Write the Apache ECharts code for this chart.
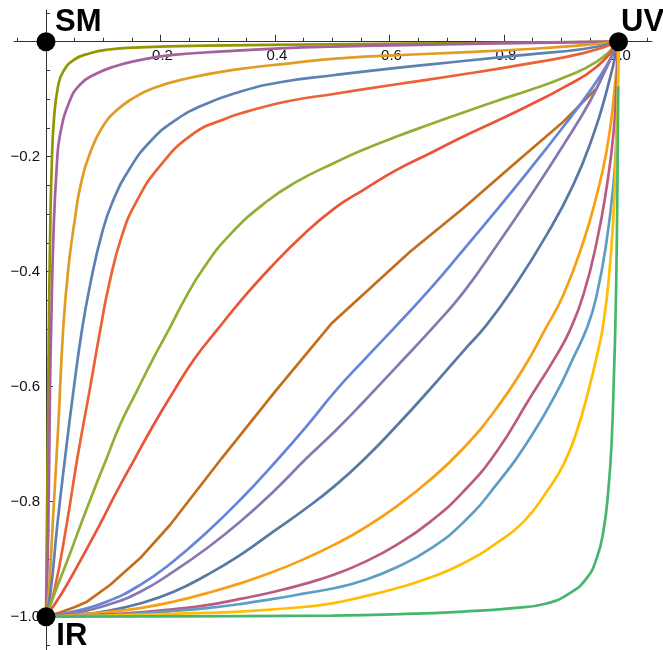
<!DOCTYPE html>
<html><head><meta charset="utf-8">
<script src="https://cdn.jsdelivr.net/npm/echarts@6/dist/echarts.min.js"></script>
<style>html,body{margin:0;padding:0;background:#fff}#c{width:663px;height:650px}</style>
</head><body><div id="c"></div>
<script>
// ---- tick values ----
const xMajorTicks = [0, 0.2, 0.4, 0.6, 0.8, 1.0];
const xLabelValues = [0.2, 0.4, 0.6, 0.8, 1.0];
const xMinorTicks = [-0.05, 0.05, 0.1, 0.15, 0.25, 0.3, 0.35, 0.45, 0.5, 0.55, 0.65, 0.7, 0.75, 0.85, 0.9, 0.95, 1.05];
const yMajorTicks = [0, -0.2, -0.4, -0.6, -0.8, -1.0];
const yLabelValues = [-0.2, -0.4, -0.6, -0.8, -1.0];
const yMinorTicks = [0.05, -0.05, -0.1, -0.15, -0.25, -0.3, -0.35, -0.45, -0.5, -0.55, -0.65, -0.7, -0.75, -0.85, -0.9, -0.95, -1.05];

// ---- corner points ----
const cornerNames = ['SM', 'UV', 'IR'];
const cornerPoints = [[0, 0], [1, 0], [0, -1]];

// ---- curves (x, y) ----
const c1 = [[0,-1],[0.002,-0.8],[0.004,-0.6],[0.005,-0.5],[0.007,-0.35],[0.0099,-0.22],[0.014,-0.133],[0.0215,-0.075],[0.030,-0.052],[0.048,-0.032],[0.077,-0.020],[0.106,-0.014],[0.164,-0.010],[0.28,-0.007],[0.5,-0.0045],[0.75,-0.0025],[1,0]];
const c2 = [[0,-1],[0.004,-0.85],[0.007,-0.6],[0.009,-0.5],[0.013,-0.336],[0.0186,-0.22],[0.0245,-0.162],[0.041,-0.104],[0.059,-0.075],[0.083,-0.058],[0.118,-0.0435],[0.164,-0.032],[0.222,-0.023],[0.31,-0.017],[0.4,-0.012],[0.5,-0.0085],[0.65,-0.0055],[0.79,-0.003],[1,0]];
const c3 = [[0,-1],[0.005,-0.957],[0.0116,-0.84],[0.0215,-0.667],[0.030,-0.5],[0.039,-0.394],[0.0507,-0.307],[0.0606,-0.249],[0.078,-0.191],[0.097,-0.151],[0.1205,-0.122],[0.1525,-0.098],[0.187,-0.081],[0.246,-0.064],[0.327,-0.049],[0.426,-0.0376],[0.505,-0.0295],[0.671,-0.021],[0.845,-0.0127],[0.962,-0.004],[1,0]];
const c4 = [[0,-1],[0.008,-0.957],[0.0198,-0.84],[0.0332,-0.7245],[0.0477,-0.609],[0.063,-0.5],[0.077,-0.423],[0.097,-0.336],[0.1165,-0.278],[0.1467,-0.22],[0.1817,-0.174],[0.2224,-0.139],[0.275,-0.110],[0.339,-0.087],[0.409,-0.0705],[0.505,-0.058],[0.6125,-0.0455],[0.729,-0.0336],[0.845,-0.022],[0.9386,-0.0127],[1,0]];
const c5 = [[0,-1],[0.014,-0.957],[0.036,-0.84],[0.0547,-0.7245],[0.0757,-0.609],[0.095,-0.5],[0.110,-0.423],[0.133,-0.336],[0.158,-0.278],[0.196,-0.22],[0.2545,-0.162],[0.3156,-0.133],[0.3505,-0.1217],[0.42,-0.104],[0.505,-0.0905],[0.6125,-0.074],[0.729,-0.0567],[0.845,-0.0376],[0.9386,-0.020],[1,0]];
const c6 = [[0,-1],[0.016,-0.957],[0.039,-0.898],[0.0606,-0.84],[0.0827,-0.7826],[0.106,-0.7245],[0.129,-0.667],[0.158,-0.609],[0.1875,-0.5506],[0.215,-0.5],[0.240,-0.452],[0.275,-0.394],[0.321,-0.336],[0.3855,-0.278],[0.438,-0.2435],[0.505,-0.21],[0.554,-0.188],[0.6125,-0.165],[0.671,-0.1437],[0.729,-0.123],[0.787,-0.103],[0.845,-0.084],[0.9036,-0.0626],[0.962,-0.0348],[1,0]];
const c7 = [[0,-1],[0.029,-0.957],[0.0624,-0.898],[0.094,-0.84],[0.1235,-0.7826],[0.1555,-0.7245],[0.1875,-0.667],[0.2224,-0.609],[0.260,-0.5506],[0.300,-0.5],[0.339,-0.452],[0.391,-0.394],[0.449,-0.336],[0.505,-0.289],[0.554,-0.258],[0.6125,-0.223],[0.671,-0.194],[0.729,-0.165],[0.787,-0.138],[0.845,-0.110],[0.9036,-0.080],[0.962,-0.0435],[1,0]];
const c8 = [[0,-1],[0.0245,-0.9927],[0.0507,-0.9831],[0.0716,-0.9739],[0.1118,-0.9449],[0.1642,-0.8984],[0.2166,-0.8405],[0.3069,-0.7245],[0.4,-0.6087],[0.4996,-0.4892],[0.6358,-0.3652],[0.7289,-0.2897],[0.8222,-0.2087],[0.9036,-0.1391],[0.9619,-0.081],[1,0]];
const c9 = [[0,-1],[0.048,-0.991],[0.106,-0.974],[0.164,-0.945],[0.222,-0.904],[0.281,-0.853],[0.339,-0.797],[0.397,-0.735],[0.455,-0.669],[0.505,-0.608],[0.556,-0.553],[0.61,-0.496],[0.671,-0.43],[0.729,-0.362],[0.787,-0.293],[0.845,-0.222],[0.9036,-0.148],[0.950,-0.086],[0.983,-0.035],[1,0]];
const c10 = [[0,-1],[0.048,-0.994],[0.106,-0.980],[0.164,-0.957],[0.222,-0.922],[0.281,-0.881],[0.339,-0.835],[0.397,-0.7826],[0.455,-0.7245],[0.505,-0.677],[0.554,-0.627],[0.6125,-0.565],[0.6825,-0.49],[0.729,-0.436],[0.787,-0.355],[0.845,-0.27],[0.9036,-0.18],[0.950,-0.104],[0.979,-0.045],[1,0]];
const c11 = [[0,-1],[0.048,-0.997],[0.106,-0.990],[0.164,-0.977],[0.222,-0.957],[0.281,-0.9275],[0.339,-0.893],[0.397,-0.852],[0.455,-0.811],[0.505,-0.772],[0.554,-0.728],[0.6125,-0.668],[0.671,-0.604],[0.729,-0.538],[0.77,-0.492],[0.816,-0.429],[0.8745,-0.336],[0.921,-0.249],[0.956,-0.162],[0.979,-0.087],[1,0]];
const c12 = [[0,-1],[0.048,-0.997],[0.106,-0.992],[0.164,-0.985],[0.222,-0.974],[0.281,-0.959],[0.339,-0.942],[0.397,-0.922],[0.455,-0.898],[0.505,-0.874],[0.554,-0.847],[0.6125,-0.808],[0.671,-0.762],[0.729,-0.707],[0.787,-0.6376],[0.834,-0.568],[0.872,-0.5],[0.9036,-0.4405],[0.9386,-0.348],[0.962,-0.2666],[0.979,-0.191],[0.991,-0.104],[1,0]];
const c13 = [[0,-1],[0.048,-0.999],[0.106,-0.996],[0.164,-0.9925],[0.222,-0.987],[0.281,-0.980],[0.339,-0.969],[0.397,-0.957],[0.455,-0.942],[0.505,-0.926],[0.554,-0.906],[0.6125,-0.875],[0.671,-0.835],[0.729,-0.7826],[0.787,-0.713],[0.845,-0.620],[0.892,-0.545],[0.915,-0.502],[0.9386,-0.4405],[0.962,-0.348],[0.979,-0.255],[0.991,-0.162],[0.9965,-0.075],[1,0]];
const c14 = [[0,-1],[0.106,-0.997],[0.164,-0.994],[0.222,-0.990],[0.281,-0.985],[0.339,-0.978],[0.397,-0.969],[0.455,-0.959],[0.505,-0.95],[0.554,-0.937],[0.6125,-0.914],[0.671,-0.882],[0.729,-0.836],[0.787,-0.77],[0.845,-0.69],[0.892,-0.61],[0.92,-0.552],[0.946,-0.495],[0.962,-0.4405],[0.979,-0.348],[0.991,-0.249],[0.9965,-0.162],[0.999,-0.07],[1,0]];
const c15 = [[0,-1],[0.106,-0.998],[0.222,-0.995],[0.339,-0.991],[0.455,-0.9826],[0.505,-0.976],[0.554,-0.965],[0.6125,-0.9506],[0.671,-0.932],[0.729,-0.907],[0.787,-0.872],[0.834,-0.835],[0.8745,-0.7826],[0.9036,-0.736],[0.927,-0.678],[0.950,-0.597],[0.9677,-0.522],[0.972,-0.5],[0.982,-0.423],[0.991,-0.307],[0.9956,-0.191],[0.999,-0.08],[1,0]];
const c16 = [[0,-1],[0.2,-0.9995],[0.5,-0.998],[0.6125,-0.9957],[0.729,-0.991],[0.816,-0.985],[0.8745,-0.977],[0.915,-0.959],[0.9445,-0.933],[0.962,-0.898],[0.9735,-0.852],[0.982,-0.7826],[0.988,-0.696],[0.992,-0.58],[0.9945,-0.493],[0.997,-0.35],[0.9985,-0.2],[0.9995,-0.078]];

const curves = [c1,c2,c3,c4,c5,c6,c7,c8,c9,c10,c11,c12,c13,c14,c15,c16];
const curveColors = ['#929600','#A5609D','#E19C24','#5E81B5','#EB6235','#8FB032','#E95536','#C56E1A','#6685D9','#8778B3','#5878A6','#F89F13','#BC5B80','#5D9EC7','#FFBF00','#47B66D'];
const straightCurve = 7; // c8 is drawn with straight segments

// ---- layout / style ----
const W = 663, H = 650;
const GRID = { left: 14, right: 11, top: 10, bottom: 0 };
const X_MIN = -0.0559, X_MAX = 1.0585, Y_MIN = -1.0579, Y_MAX = 0.0551;
const AXIS_COLOR = '#333333';
const FONT = '"Liberation Sans", Arial, Helvetica, sans-serif';
const cornerLabelOffsets = [[9, -19], [2.5, -19], [10.3, 19.6]];

// axes are drawn through the origin: shift them from the grid edge to value 0
const gridW = W - GRID.left - GRID.right, gridH = H - GRID.top - GRID.bottom;
const xAxisShift = -(Y_MAX - 0) / (Y_MAX - Y_MIN) * gridH;   // top edge -> y = 0
const yAxisShift = -(0 - X_MIN) / (X_MAX - X_MIN) * gridW;   // left edge -> x = 0

function fmt(v) {
  const s = Math.abs(v).toFixed(1);
  return v < 0 ? '\u2212' + s : s;
}

function axisPair(dim, major, labels, minor) {
  const isX = dim === 'x';
  const base = {
    type: 'value',
    min: isX ? X_MIN : Y_MIN,
    max: isX ? X_MAX : Y_MAX,
    position: isX ? 'top' : 'left',
    offset: isX ? xAxisShift : yAxisShift,
    splitLine: { show: false }
  };
  return [
    Object.assign({}, base, {
      axisLine: { show: true, onZero: false, lineStyle: { color: AXIS_COLOR, width: 1 } },
      axisTick: { show: true, inside: !isX, length: 7, customValues: major, lineStyle: { color: AXIS_COLOR, width: 1 } },
      axisLabel: { show: true, inside: isX, customValues: labels, margin: isX ? 7 : 6, fontSize: 15, fontFamily: FONT, color: '#111', formatter: fmt,
                   padding: isX ? [0, 0, 0, 4] : 0 }
    }),
    Object.assign({}, base, {
      axisLine: { show: false, onZero: false },
      axisTick: { show: true, inside: !isX, length: 4, customValues: minor, lineStyle: { color: AXIS_COLOR, width: 1 } },
      axisLabel: { show: false }
    })
  ];
}

const series = curves.map((d, i) => ({
  type: 'line',
  data: d,
  xAxisIndex: 0, yAxisIndex: 0,
  showSymbol: false,
  smooth: i === straightCurve ? false : 0.5,
  lineStyle: { color: curveColors[i], width: 2.7 },
  itemStyle: { color: curveColors[i] },
  silent: true
}));

series.push({
  type: 'scatter',
  xAxisIndex: 0, yAxisIndex: 0,
  clip: false,
  symbolSize: 19,
  itemStyle: { color: '#000', opacity: 1 },
  data: cornerPoints.map((p, i) => ({
    value: p, name: cornerNames[i],
    label: { offset: cornerLabelOffsets[i] }
  })),
  label: {
    show: true, position: 'inside', align: 'left', verticalAlign: 'middle',
    formatter: '{b}', fontSize: 31, fontWeight: 'bold', fontFamily: FONT, color: '#000'
  },
  z: 5,
  silent: true
});

const chart = echarts.init(document.getElementById('c'), null, { renderer: 'canvas' });
chart.setOption({
  animation: false,
  backgroundColor: '#fff',
  grid: Object.assign({ containLabel: false, outerBoundsMode: 'none' }, GRID),
  xAxis: axisPair('x', xMajorTicks, xLabelValues, xMinorTicks),
  yAxis: axisPair('y', yMajorTicks, yLabelValues, yMinorTicks),
  series: series
});
</script>
</body></html>
